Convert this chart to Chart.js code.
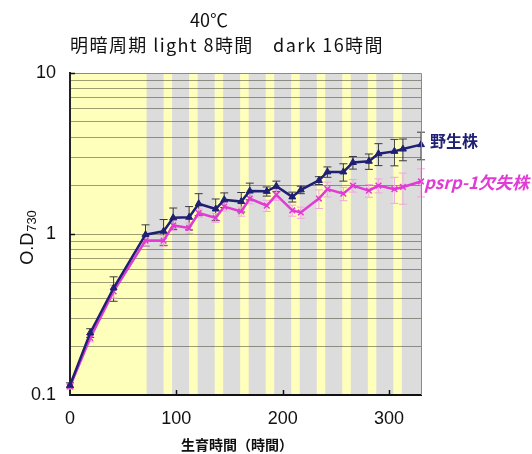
<!DOCTYPE html>
<html lang="ja">
<head>
<meta charset="utf-8">
<script src="https://cdn.jsdelivr.net/npm/chart.js@4.4.1/dist/chart.umd.min.js"></script>
<style>
    html, body { margin: 0; padding: 0; background: #fff; }
    #wrap { width: 532px; height: 454px; }
</style>
</head>
<body>
<div id="wrap"><canvas id="growth-chart" width="532" height="454"></canvas></div>
<script>
// sampling times (h)
const hours = [0, 19, 41, 71, 88, 97, 112, 121, 137, 145, 161, 169, 185, 194, 209, 217, 234, 242, 257, 266, 281, 290, 305, 313, 330];

// O.D730 values + SD
const wildType = [0.115, 0.243, 0.462, 0.99, 1.04, 1.26, 1.27, 1.54, 1.43, 1.63, 1.59, 1.85, 1.84, 1.98, 1.70, 1.88, 2.15, 2.43, 2.43, 2.78, 2.83, 3.15, 3.26, 3.37, 3.59];
const wildTypeSd = [0.004, 0.015, 0.08, 0.15, 0.19, 0.19, 0.21, 0.24, 0.22, 0.17, 0.22, 0.22, 0.12, 0.15, 0.12, 0.10, 0.12, 0.18, 0.30, 0.25, 0.31, 0.49, 0.61, 0.52, 0.70];
const psrpMutant = [0.113, 0.226, 0.44, 0.91, 0.91, 1.13, 1.09, 1.35, 1.26, 1.48, 1.38, 1.66, 1.50, 1.75, 1.40, 1.36, 1.66, 1.90, 1.78, 2.00, 1.86, 2.00, 1.90, 1.96, 2.12];
const psrpMutantSd = [0.004, 0.012, 0.04, 0.07, 0.07, 0.08, 0.08, 0.08, 0.08, 0.09, 0.09, 0.12, 0.12, 0.13, 0.11, 0.11, 0.22, 0.20, 0.17, 0.18, 0.17, 0.20, 0.35, 0.43, 0.42];

// light periods (h), everything else is dark
const lightStart = [0, 88, 112, 136, 160, 184, 208, 232, 256, 280, 304];
const lightEnd = [72, 96, 120, 144, 168, 192, 216, 240, 264, 288, 312];

const xTicks = [0, 100, 200, 300];
const yTickLabels = [0.1, 1, 10];
const yGridLines = [0.1, 0.2, 0.3, 0.4, 0.5, 0.6, 0.7, 0.8, 0.9, 1, 2, 3, 4, 5, 6, 7, 8, 9, 10];

const seriesNames = ['野生株', 'psrp-1欠失株'];
const titleLines = ['40℃', '明暗周期 light 8時間　dark 16時間'];
const xTitle = '生育時間（時間）';

const NAVY = '#1f1f74';
const MAGENTA = '#e23ad4';
const JP = "'Noto Sans CJK JP', 'Noto Sans', sans-serif";
const LATIN = "'Liberation Sans', Arial, sans-serif";

// background: dark (gray) with light (yellow) bands
const bandsPlugin = {
    id: 'bands',
    beforeDraw(chart) {
        const { ctx, chartArea: a, scales: { x } } = chart;
        ctx.save();
        ctx.fillStyle = '#dcdcdc';
        ctx.fillRect(a.left, a.top, a.right - a.left, a.bottom - a.top);
        ctx.fillStyle = '#ffffbc';
        lightStart.forEach((s, i) => {
            const x0 = x.getPixelForValue(s);
            const x1 = x.getPixelForValue(lightEnd[i]);
            ctx.fillRect(x0, a.top, x1 - x0, a.bottom - a.top);
        });
        ctx.restore();
    }
};

// vertical error bars with caps
const errorBarsPlugin = {
    id: 'errorBars',
    beforeDatasetsDraw(chart) {
        const { ctx, scales: { x, y } } = chart;
        ctx.save();
        chart.data.datasets.forEach(ds => {
            if (!ds.errors) return;
            ctx.strokeStyle = ds.errorColor;
            ctx.lineWidth = 1;
            ds.data.forEach((p, i) => {
                const sd = ds.errors[i];
                const px = x.getPixelForValue(p.x);
                const top = y.getPixelForValue(p.y + sd);
                const bot = y.getPixelForValue(Math.max(p.y - sd, 0.1));
                ctx.beginPath();
                ctx.moveTo(px, top); ctx.lineTo(px, bot);
                ctx.moveTo(px - 4, top); ctx.lineTo(px + 4, top);
                ctx.moveTo(px - 4, bot); ctx.lineTo(px + 4, bot);
                ctx.stroke();
            });
        });
        ctx.restore();
    }
};

// frame, inner ticks, titles and series labels
const decorPlugin = {
    id: 'decor',
    afterDraw(chart) {
        const { ctx, chartArea: a, scales: { x, y } } = chart;
        ctx.save();

        ctx.strokeStyle = '#8a8a8a';
        ctx.lineWidth = 1;
        ctx.beginPath();
        ctx.moveTo(a.left, a.top + 0.5); ctx.lineTo(a.right + 0.5, a.top + 0.5);
        ctx.lineTo(a.right + 0.5, a.bottom);
        ctx.stroke();

        ctx.strokeStyle = '#111';
        ctx.lineWidth = 1.5;
        ctx.beginPath();
        xTicks.slice(1).forEach(v => {
            const px = Math.round(x.getPixelForValue(v)) + 0.5;
            ctx.moveTo(px, a.bottom); ctx.lineTo(px, a.bottom - 5);
        });
        yTickLabels.slice(1).forEach(v => {
            const py = Math.round(y.getPixelForValue(v)) + 0.5;
            ctx.moveTo(a.left, py); ctx.lineTo(a.left + 5, py);
        });
        ctx.stroke();

        ctx.fillStyle = '#111';
        ctx.textAlign = 'center';
        ctx.textBaseline = 'middle';
        ctx.font = `18px ${JP}`;
        ctx.fillText(titleLines[0], 209, 20);
        ctx.letterSpacing = '1.4px';
        ctx.fillText(titleLines[1], 227, 45);
        ctx.letterSpacing = '0px';

        ctx.font = `bold 14px ${JP}`;
        ctx.fillText(xTitle, 237, 445);

        // y title: O.D with subscript 730
        ctx.save();
        ctx.translate(28, 238);
        ctx.rotate(-Math.PI / 2);
        ctx.font = `18px ${LATIN}`;
        const main = 'O.D';
        const sub = '730';
        const mw = ctx.measureText(main).width;
        ctx.font = `13px ${LATIN}`;
        const sw = ctx.measureText(sub).width;
        const start = -(mw + sw) / 2;
        ctx.textAlign = 'left';
        ctx.font = `18px ${LATIN}`;
        ctx.fillText(main, start, 0);
        ctx.font = `13px ${LATIN}`;
        ctx.fillText(sub, start + mw + 1, 4);
        ctx.restore();

        // series labels next to the last point
        const wtLast = chart.getDatasetMeta(0).data.at(-1);
        const muLast = chart.getDatasetMeta(1).data.at(-1);
        ctx.textAlign = 'left';
        ctx.font = `bold 16px ${JP}`;
        ctx.fillStyle = NAVY;
        ctx.fillText(seriesNames[0], wtLast.x + 9, wtLast.y - 4);
        ctx.font = `italic bold 17px ${JP}`;
        ctx.fillStyle = MAGENTA;
        ctx.fillText(seriesNames[1], muLast.x + 3, muLast.y + 1);

        ctx.restore();
    }
};

class GrowthChart {
    constructor(canvasId) {
        this.canvas = document.getElementById(canvasId);
        this.init();
    }

    init() {
        this.chart = new Chart(this.canvas, this.buildConfig());
    }

    buildConfig() {
        return {
            type: 'line',
            data: {
                datasets: [
                    {
                        label: seriesNames[0],
                        data: hours.map((h, i) => ({ x: h, y: wildType[i] })),
                        errors: wildTypeSd,
                        errorColor: '#3a3a3a',
                        borderColor: NAVY,
                        backgroundColor: NAVY,
                        borderWidth: 2.5,
                        pointStyle: 'triangle',
                        pointRadius: 4,
                        pointBorderWidth: 1,
                        tension: 0,
                        clip: 10
                    },
                    {
                        label: seriesNames[1],
                        data: hours.map((h, i) => ({ x: h, y: psrpMutant[i] })),
                        errors: psrpMutantSd,
                        errorColor: '#f2a6dc',
                        borderColor: MAGENTA,
                        backgroundColor: MAGENTA,
                        borderWidth: 2.5,
                        pointStyle: 'crossRot',
                        pointRadius: 4,
                        pointBorderWidth: 1.5,
                        tension: 0,
                        clip: 10
                    }
                ]
            },
            options: {
                responsive: false,
                animation: false,
                devicePixelRatio: 1,
                layout: { padding: { top: 73, right: 111, left: 0, bottom: 0 } },
                plugins: {
                    legend: { display: false },
                    tooltip: { enabled: false },
                    title: { display: false }
                },
                scales: {
                    x: {
                        type: 'linear',
                        min: 0,
                        max: 330,
                        afterBuildTicks: s => { s.ticks = xTicks.map(v => ({ value: v })); },
                        afterFit: s => { s.height = 59; },
                        ticks: {
                            color: '#111',
                            font: { family: LATIN, size: 18 },
                            padding: 13,
                            maxRotation: 0,
                            autoSkip: false
                        },
                        grid: { display: false, drawTicks: false },
                        border: { color: '#111', width: 2 }
                    },
                    y: {
                        type: 'logarithmic',
                        min: 0.1,
                        max: 10,
                        afterBuildTicks: s => { s.ticks = yGridLines.map(v => ({ value: v })); },
                        afterFit: s => { s.width = 70; },
                        ticks: {
                            color: '#111',
                            font: { family: LATIN, size: 18 },
                            padding: 14,
                            autoSkip: false,
                            callback: v => yTickLabels.includes(v) ? String(v) : ''
                        },
                        grid: { color: 'rgba(40,40,20,0.45)', lineWidth: 1, drawTicks: false },
                        border: { color: '#222', width: 2 }
                    }
                }
            },
            plugins: [bandsPlugin, errorBarsPlugin, decorPlugin]
        };
    }
}

new GrowthChart('growth-chart');
</script>
</body>
</html>
